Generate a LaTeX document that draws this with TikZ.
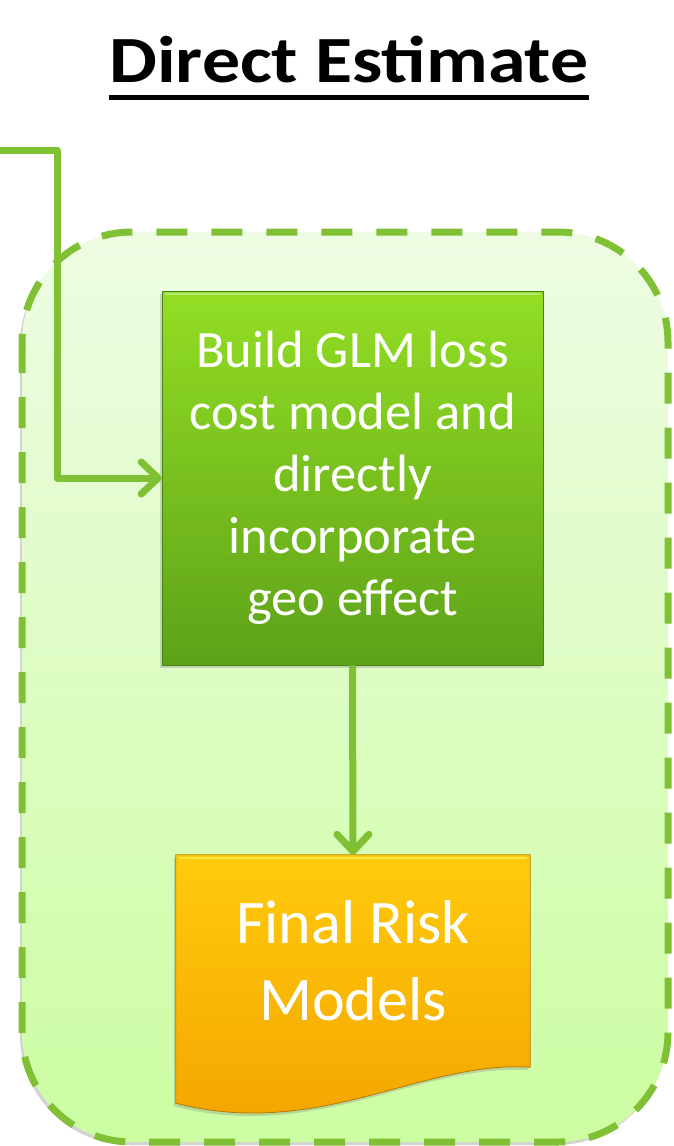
\documentclass[tikz,border=0pt]{standalone}
\usepackage{fontspec}
\setmainfont{Carlito}
\newfontfamily\titlefont[FakeStretch=1.15]{Carlito}
\usetikzlibrary{arrows.meta,backgrounds,shadows}

\definecolor{leafgreen}{HTML}{80C035}
\definecolor{panelTop}{HTML}{EEFCE3}
\definecolor{panelBot}{HTML}{CCFDA2}
\definecolor{glmTop}{HTML}{93DE24}
\definecolor{glmBot}{HTML}{5EA219}
\definecolor{docTop}{HTML}{FFCB0C}
\definecolor{docBot}{HTML}{F3A300}

\begin{document}
\begin{tikzpicture}[x=1pt,y=-1pt,
  link/.style={draw=leafgreen,line width=7pt,line join=round,
    -{Straight Barb[length=17pt,width=32pt,round]}},
  glmbox/.style={top color=glmTop,bottom color=glmBot,draw=glmBot!80!black,line width=0.6pt,
    minimum width=381pt,minimum height=374pt,text=white,align=center,
    font=\fontsize{52.5}{62}\selectfont,
    drop shadow={opacity=0.3,shadow xshift=-2pt,shadow yshift=-3pt}},
  docbox/.style={minimum width=354pt,minimum height=212pt,text=white,align=center,
    font=\fontsize{62}{77}\selectfont}]

\useasboundingbox (0,0) rectangle (673,1146);

% Title
\node[inner sep=0pt,font=\titlefont\fontsize{66}{78}\selectfont\bfseries,anchor=base] (title) at (349,82) {Direct Estimate};
\draw[line width=5pt] ([yshift=-15pt]title.base west) -- ([yshift=-15pt]title.base east);

% Panel round the estimate
\begin{scope}[on background layer]
\path[top color=panelTop,bottom color=panelBot,rounded corners=110pt,
  drop shadow={opacity=0.35,shadow xshift=-2pt,shadow yshift=-3pt}]
  (22,232) rectangle (668,1142);
\draw[leafgreen,line width=7pt,dash pattern=on 31pt off 24pt,rounded corners=110pt]
  (22,232) rectangle (668,1142);
\end{scope}

%GLM model
\node[glmbox] (glm) at (352.5,478) {Build GLM loss\\cost model and\\directly\\incorporate\\geo effect};
\draw[white,opacity=0.35,line width=2pt] ([shift={(3,3)}]glm.north west) -- ([shift={(-3,3)}]glm.north east);

%Final models
\node[docbox] (final) at (353,961) {Final Risk\\Models};
\path (final.south west) ++(0,36) coordinate (wl);
\begin{scope}[on background layer]
\path[top color=docTop,bottom color=docBot,draw=docBot!75!black,line width=0.8pt,
  drop shadow={opacity=0.3,shadow xshift=-2pt,shadow yshift=-3pt}]
  (final.north west) -- (final.north east) -- (final.south east)
  .. controls +(-110,-7) and +(144,37) .. (wl) -- cycle;
\draw[yellow!60!white,opacity=0.6,line width=2pt] ([shift={(3,3)}]final.north west) -- ([shift={(-3,3)}]final.north east);
\end{scope}

% Connectors
\coordinate (src) at (0,150);
\draw[link] (src) -- ++(57,0) |- (glm.west);
\draw[link] (glm.south) -- (final.north);

\end{tikzpicture}
\end{document}
